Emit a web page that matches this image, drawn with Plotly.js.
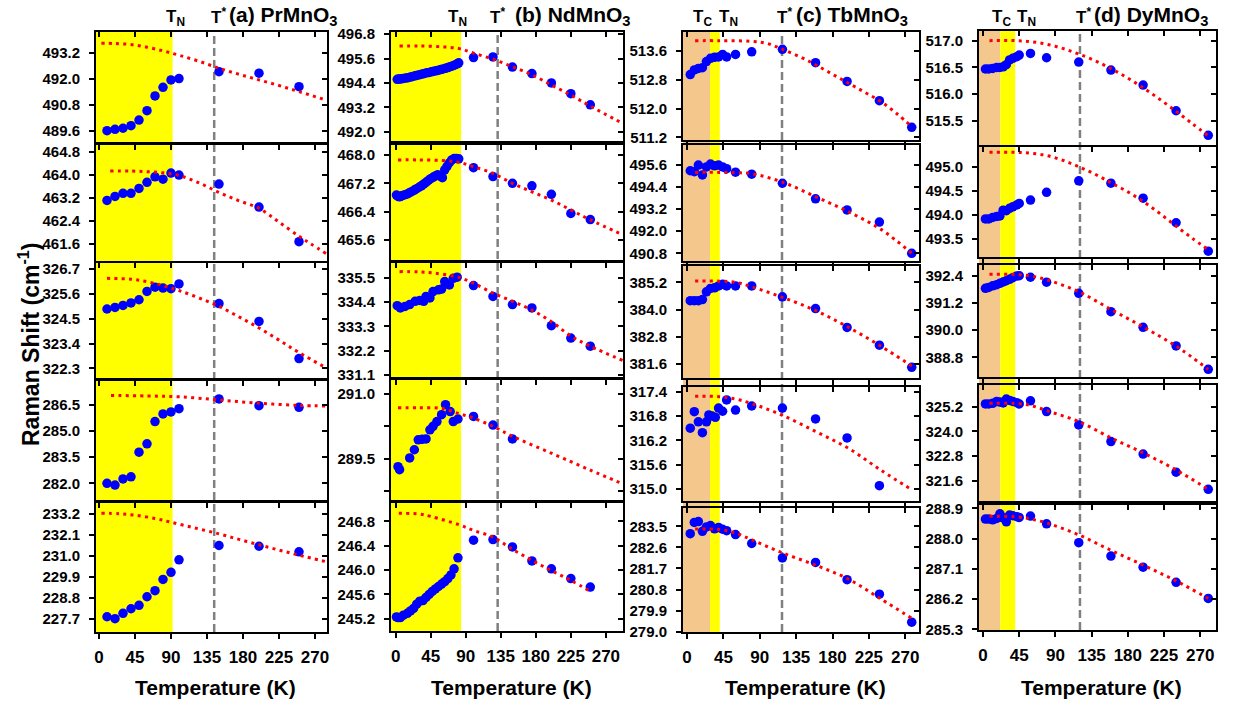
<!DOCTYPE html>
<html><head><meta charset="utf-8">
<script src="https://cdn.plot.ly/plotly-3.0.1.min.js"></script>
<style>html,body{margin:0;padding:0;background:#fff}#chart{width:1237px;height:703px}</style>
</head><body><div id="chart"></div>
<script>
// ================= DATA =================
const xTicks = [0, 45, 90, 135, 180, 225, 270];
const compoundLabels = ['(a) PrMnO<sub>3</sub>', '(b) NdMnO<sub>3</sub>', '(c) TbMnO<sub>3</sub>', '(d) DyMnO<sub>3</sub>'];
const TN_K = [92, 84, 40.5, 40];
const TC_K = [null, null, 28.5, 21.5];
const Tstar_K = [144, 131, 117.5, 120.5];

// ---- (a) PrMnO3 ----
const T_Pr = [10, 20, 30, 40, 50, 60, 70, 80, 90, 100, 150, 200, 250];
const w_Pr_1 = [489.60, 489.66, 489.71, 489.83, 490.09, 490.52, 491.20, 491.60, 491.94, 492.00, 492.32, 492.25, 491.63];
const w_Pr_2 = [463.11, 463.25, 463.36, 463.36, 463.53, 463.74, 463.93, 463.85, 464.06, 463.99, 463.68, 462.88, 461.68];
const w_Pr_3 = [324.93, 325.00, 325.09, 325.20, 325.34, 325.71, 325.90, 325.86, 325.83, 326.04, 325.17, 324.38, 322.73];
const w_Pr_4 = [282.00, 281.90, 282.25, 282.37, 283.79, 284.27, 285.55, 285.99, 286.10, 286.29, 286.85, 286.46, 286.37];
const w_Pr_5 = [227.82, 227.72, 228.00, 228.24, 228.42, 228.87, 229.19, 229.78, 230.15, 230.81, 231.56, 231.52, 231.23];
const fT_Pr_1 = [3, 20, 40, 60, 80, 100, 125, 150, 175, 200, 225, 250, 285];
const fw_Pr_1 = [493.63, 493.62, 493.57, 493.45, 493.28, 493.08, 492.80, 492.48, 492.20, 491.94, 491.68, 491.40, 491.00];
const fT_Pr_2 = [14, 40, 60, 80, 100, 125, 150, 175, 200, 225, 250, 264, 285];
const fw_Pr_2 = [464.13, 464.13, 464.11, 464.07, 463.98, 463.72, 463.39, 463.10, 462.84, 462.36, 461.87, 461.62, 461.25];
const fT_Pr_3 = [10, 40, 60, 80, 100, 125, 150, 175, 200, 225, 250, 285];
const fw_Pr_3 = [326.29, 326.25, 326.14, 325.97, 325.75, 325.42, 325.05, 324.58, 324.09, 323.55, 323.00, 322.30];
const fT_Pr_4 = [15, 60, 100, 150, 200, 250, 285];
const fw_Pr_4 = [287.05, 287.02, 286.97, 286.79, 286.60, 286.48, 286.44];
const fT_Pr_5 = [3, 25, 45, 70, 90, 120, 150, 175, 200, 225, 250, 285];
const fw_Pr_5 = [233.25, 233.23, 233.15, 232.98, 232.78, 232.48, 232.17, 231.88, 231.60, 231.32, 231.05, 230.70];

// ---- (b) NdMnO3 ----
const T_Nd_1 = [2, 4, 6, 8, 10, 13, 16, 19, 22, 25, 28, 31, 34, 37, 40, 43, 46, 49, 52, 55, 58, 61, 64, 67, 70, 73, 76, 79, 81, 100, 125, 150, 175, 200, 225, 250];
const w_Nd_1 = [494.58, 494.59, 494.60, 494.61, 494.62, 494.64, 494.66, 494.69, 494.72, 494.75, 494.78, 494.81, 494.84, 494.87, 494.90, 494.92, 494.95, 494.98, 495.00, 495.03, 495.06, 495.09, 495.12, 495.16, 495.20, 495.24, 495.29, 495.34, 495.39, 495.65, 495.68, 495.18, 494.86, 494.40, 493.87, 493.32];
const T_Nd_2 = [1, 3, 5, 7, 9, 12, 15, 18, 21, 24, 27, 30, 33, 36, 39, 42, 45, 48, 51, 54, 57, 60, 63, 66, 69, 72, 75, 78, 81, 100, 125, 150, 175, 200, 225, 250];
const w_Nd_2 = [466.87, 466.83, 466.82, 466.84, 466.86, 466.88, 466.90, 466.94, 466.97, 467.01, 467.05, 467.09, 467.13, 467.18, 467.23, 467.28, 467.33, 467.37, 467.41, 467.44, 467.40, 467.36, 467.58, 467.68, 467.78, 467.86, 467.90, 467.90, 467.89, 467.64, 467.39, 467.20, 467.13, 466.89, 466.35, 466.18];
const T_Nd_3 = [2, 6, 12, 18, 25, 31, 36, 39, 44, 48, 55, 59, 63, 69, 74, 79, 100, 125, 150, 175, 200, 225, 250];
const w_Nd_3 = [334.23, 334.13, 334.20, 334.28, 334.43, 334.47, 334.43, 334.65, 334.58, 334.87, 334.95, 334.98, 335.32, 335.17, 335.47, 335.52, 335.14, 334.65, 334.28, 334.13, 333.33, 332.77, 332.40];
const T_Nd_4 = [3, 5, 18, 24, 29, 34, 39, 44, 48, 53, 59, 64, 70, 74, 80, 100, 125, 150];
const w_Nd_4 = [289.32, 289.25, 289.52, 289.71, 289.94, 289.95, 289.96, 290.17, 290.25, 290.36, 290.52, 290.75, 290.59, 290.36, 290.42, 290.48, 290.28, 289.96];
const T_Nd_5 = [1, 3, 6, 10, 15, 19, 23, 27, 31, 35, 39, 43, 47, 51, 55, 59, 63, 67, 71, 75, 80, 100, 125, 150, 175, 200, 225, 250];
const w_Nd_5 = [245.23, 245.22, 245.22, 245.26, 245.29, 245.33, 245.37, 245.44, 245.49, 245.50, 245.55, 245.60, 245.65, 245.69, 245.73, 245.77, 245.81, 245.86, 245.92, 246.02, 246.20, 246.49, 246.50, 246.38, 246.15, 246.02, 245.86, 245.72];
const fT_Nd_1 = [5, 30, 60, 82, 100, 125, 150, 175, 200, 225, 250, 292];
const fw_Nd_1 = [496.22, 496.22, 496.18, 496.09, 495.87, 495.57, 495.20, 494.80, 494.30, 493.80, 493.26, 492.40];
const fT_Nd_2 = [3, 30, 60, 82, 100, 125, 150, 175, 200, 225, 250, 292];
const fw_Nd_2 = [467.86, 467.86, 467.84, 467.79, 467.67, 467.48, 467.20, 466.96, 466.73, 466.45, 466.17, 465.75];
const fT_Nd_3 = [5, 30, 50, 80, 100, 125, 150, 175, 200, 225, 250, 292];
const fw_Nd_3 = [335.77, 335.76, 335.70, 335.52, 335.25, 334.80, 334.43, 334.03, 333.51, 332.86, 332.40, 331.75];
const fT_Nd_4 = [3, 30, 60, 82, 100, 125, 150, 200, 250, 292];
const fw_Nd_4 = [290.68, 290.68, 290.66, 290.54, 290.44, 290.25, 290.02, 289.63, 289.24, 288.92];
const fT_Nd_5 = [4, 30, 45, 82, 100, 125, 150, 175, 200, 225, 250];
const fw_Nd_5 = [246.93, 246.92, 246.88, 246.74, 246.65, 246.54, 246.34, 246.16, 245.99, 245.83, 245.65];

// ---- (c) TbMnO3 ----
const T_Tb = [4, 9, 14, 19, 24, 29, 34, 39, 44, 49, 60, 80, 118, 159, 198, 238, 278];
const T_Tb_4 = [4, 9, 14, 19, 24, 27, 31, 35, 39, 44, 49, 60, 80, 118, 159, 198, 238];
const w_Tb_1 = [512.94, 513.07, 513.11, 513.13, 513.30, 513.39, 513.42, 513.43, 513.50, 513.43, 513.50, 513.57, 513.64, 513.27, 512.75, 512.22, 511.48];
const w_Tb_2 = [495.29, 495.24, 495.60, 495.06, 495.50, 495.65, 495.56, 495.60, 495.50, 495.40, 495.21, 495.10, 494.61, 493.76, 493.16, 492.50, 490.80];
const w_Tb_3 = [384.39, 384.39, 384.39, 384.44, 384.78, 384.93, 384.96, 385.04, 385.11, 385.04, 385.04, 385.04, 384.56, 384.04, 383.21, 382.43, 381.45];
const w_Tb_4 = [316.50, 316.91, 316.66, 316.39, 316.66, 316.83, 316.80, 316.77, 317.00, 316.92, 317.20, 316.95, 317.05, 317.00, 316.73, 316.26, 315.08];
const w_Tb_5 = [283.19, 283.67, 283.71, 283.29, 283.48, 283.54, 283.40, 283.46, 283.38, 283.32, 283.15, 282.77, 282.15, 281.96, 281.22, 280.60, 279.40];
const fT_Tb_1 = [10, 40, 80, 100, 118, 140, 160, 180, 200, 220, 240, 260, 278];
const fw_Tb_1 = [513.88, 513.88, 513.86, 513.80, 513.64, 513.43, 513.20, 512.95, 512.70, 512.45, 512.19, 511.85, 511.50];
const fT_Tb_2 = [10, 40, 60, 80, 118, 160, 200, 240, 278];
const fw_Tb_2 = [495.20, 495.20, 495.18, 495.13, 494.67, 493.86, 493.05, 492.10, 490.80];
const fT_Tb_3 = [10, 40, 60, 80, 118, 160, 200, 240, 278];
const fw_Tb_3 = [385.26, 385.25, 385.20, 385.00, 384.54, 383.94, 383.21, 382.38, 381.51];
const fT_Tb_4 = [10, 40, 60, 80, 118, 160, 200, 240, 278];
const fw_Tb_4 = [317.29, 317.28, 317.22, 317.11, 316.82, 316.41, 316.00, 315.46, 314.98];
const fT_Tb_5 = [10, 40, 60, 80, 118, 160, 200, 240, 278];
const fw_Tb_5 = [283.39, 283.37, 283.22, 282.93, 282.37, 281.83, 281.24, 280.39, 279.57];

// ---- (d) DyMnO3 ----
const T_Dy = [3, 7, 12, 17, 21, 25, 29, 33, 37, 42, 45, 59, 79, 119, 159, 199, 240, 280];
const w_Dy_1 = [516.47, 516.47, 516.48, 516.50, 516.50, 516.51, 516.55, 516.64, 516.67, 516.70, 516.73, 516.76, 516.68, 516.60, 516.45, 516.17, 515.69, 515.23];
const w_Dy_2 = [493.92, 493.92, 493.95, 493.97, 493.98, 494.10, 494.09, 494.14, 494.17, 494.21, 494.24, 494.31, 494.47, 494.71, 494.66, 494.35, 493.84, 493.25];
const w_Dy_3 = [391.84, 391.88, 391.95, 392.00, 392.06, 392.12, 392.18, 392.24, 392.31, 392.39, 392.40, 392.33, 392.11, 391.62, 390.81, 390.12, 389.30, 388.27];
const w_Dy_4 = [325.33, 325.33, 325.36, 325.45, 325.42, 325.38, 325.57, 325.50, 325.45, 325.39, 325.33, 325.48, 324.96, 324.31, 323.50, 322.89, 322.01, 321.18];
const w_Dy_5 = [288.58, 288.58, 288.56, 288.60, 288.74, 288.62, 288.50, 288.70, 288.68, 288.65, 288.63, 288.67, 288.44, 287.88, 287.48, 287.15, 286.70, 286.22];
const fT_Dy_1 = [8, 40, 60, 80, 100, 119, 140, 160, 180, 200, 220, 240, 260, 280];
const fw_Dy_1 = [517.00, 517.00, 516.98, 516.93, 516.85, 516.75, 516.62, 516.47, 516.30, 516.11, 515.90, 515.68, 515.45, 515.22];
const fT_Dy_2 = [8, 40, 60, 80, 100, 119, 140, 160, 180, 200, 220, 240, 260, 280];
const fw_Dy_2 = [495.30, 495.30, 495.28, 495.23, 495.13, 495.00, 494.84, 494.66, 494.48, 494.27, 494.03, 493.77, 493.52, 493.28];
const fT_Dy_3 = [8, 40, 60, 80, 119, 160, 200, 240, 280];
const fw_Dy_3 = [392.46, 392.45, 392.38, 392.21, 391.69, 390.89, 390.12, 389.29, 388.27];
const fT_Dy_4 = [8, 45, 60, 80, 119, 160, 200, 240, 280];
const fw_Dy_4 = [325.36, 325.34, 325.25, 324.99, 324.47, 323.66, 322.93, 322.12, 321.18];
const fT_Dy_5 = [8, 45, 60, 80, 120, 160, 200, 240, 280];
const fw_Dy_5 = [288.67, 288.64, 288.58, 288.46, 288.10, 287.64, 287.20, 286.74, 286.22];

// ---- y tick labels ----
const yt_Pr = [[489.6, 490.8, 492.0, 493.2], [461.6, 462.4, 463.2, 464.0, 464.8], [322.3, 323.4, 324.5, 325.6, 326.7], [282.0, 283.5, 285.0, 286.5], [227.7, 228.8, 229.9, 231.0, 232.1, 233.2]];
const yt_Nd = [[492.0, 493.2, 494.4, 495.6, 496.8], [465.6, 466.4, 467.2, 468.0], [331.1, 332.2, 333.3, 334.4, 335.5], [289.5, 291.0], [245.2, 245.6, 246.0, 246.4, 246.8]];
const yt_Tb = [[511.2, 512.0, 512.8, 513.6], [490.8, 492.0, 493.2, 494.4, 495.6], [381.6, 382.8, 384.0, 385.2], [315.0, 315.6, 316.2, 316.8, 317.4], [279.0, 279.9, 280.8, 281.7, 282.6, 283.5]];
const yt_Dy = [[515.5, 516.0, 516.5, 517.0], [493.5, 494.0, 494.5, 495.0], [388.8, 390.0, 391.2, 392.4], [321.6, 322.8, 324.0, 325.2], [285.3, 286.2, 287.1, 288.0, 288.9]];
const ytMinor_Nd_4 = [288.75, 290.25];

// ================= LAYOUT CONFIG =================
const W = 1237, H = 703;
const px = v => v / W, py = v => 1 - v / H;
const FONT = 'Liberation Sans, Arial, Helvetica, sans-serif';
const colPx = [[96, 327], [391, 623], [683, 919], [979, 1216]];
const rowPx = [
  [[32, 143], [144, 261], [263, 378], [381, 500], [503, 632]],
  [[32, 141], [145, 260], [263, 377], [380, 500], [503, 631]],
  [[32, 140], [145, 261], [266, 378], [387, 501], [508, 632]],
  [[31, 145], [147, 257], [265, 377], [385, 501], [505, 630]]];
const xRange = [[-3.75, 285], [-6, 292], [-5, 287], [-5, 289.6]];
const yRange = [
  [[489.03, 494.15], [461.01, 465.07], [321.87, 326.97], [281.04, 287.88], [227.02, 233.79]],
  [[491.54, 496.91], [465.04, 468.28], [331.01, 336.16], [288.55, 291.32], [245.0, 247.1]],
  [[511.13, 514.12], [490.38, 496.69], [380.98, 385.92], [314.7, 317.52], [278.98, 284.29]],
  [[515.05, 517.18], [493.13, 495.41], [387.93, 392.87], [320.61, 326.25], [285.28, 289.0]]];

const series = [
  [[T_Pr, w_Pr_1, fT_Pr_1, fw_Pr_1], [T_Pr, w_Pr_2, fT_Pr_2, fw_Pr_2], [T_Pr, w_Pr_3, fT_Pr_3, fw_Pr_3], [T_Pr, w_Pr_4, fT_Pr_4, fw_Pr_4], [T_Pr, w_Pr_5, fT_Pr_5, fw_Pr_5]],
  [[T_Nd_1, w_Nd_1, fT_Nd_1, fw_Nd_1], [T_Nd_2, w_Nd_2, fT_Nd_2, fw_Nd_2], [T_Nd_3, w_Nd_3, fT_Nd_3, fw_Nd_3], [T_Nd_4, w_Nd_4, fT_Nd_4, fw_Nd_4], [T_Nd_5, w_Nd_5, fT_Nd_5, fw_Nd_5]],
  [[T_Tb, w_Tb_1, fT_Tb_1, fw_Tb_1], [T_Tb, w_Tb_2, fT_Tb_2, fw_Tb_2], [T_Tb, w_Tb_3, fT_Tb_3, fw_Tb_3], [T_Tb_4, w_Tb_4, fT_Tb_4, fw_Tb_4], [T_Tb, w_Tb_5, fT_Tb_5, fw_Tb_5]],
  [[T_Dy, w_Dy_1, fT_Dy_1, fw_Dy_1], [T_Dy, w_Dy_2, fT_Dy_2, fw_Dy_2], [T_Dy, w_Dy_3, fT_Dy_3, fw_Dy_3], [T_Dy, w_Dy_4, fT_Dy_4, fw_Dy_4], [T_Dy, w_Dy_5, fT_Dy_5, fw_Dy_5]]];
const yTicks = [yt_Pr, yt_Nd, yt_Tb, yt_Dy];

const tickStyle = {ticklen: 5, tickwidth: 2, tickcolor: '#000', showgrid: false, zeroline: false, fixedrange: true};
const axBase = Object.assign({showline: true, linecolor: '#000', linewidth: 2, mirror: true, ticks: 'outside'}, tickStyle);
const ovBase = Object.assign({showline: false, ticks: 'inside', showticklabels: false}, tickStyle);

const traces = [];
const layout = {
  width: W, height: H, margin: {l: 0, r: 0, t: 0, b: 0},
  paper_bgcolor: '#fff', plot_bgcolor: 'rgba(0,0,0,0)',
  showlegend: false, shapes: [], annotations: []
};

for (let c = 0; c < 4; c++) {
  for (let r = 0; r < 5; r++) {
    const idx = c * 5 + r + 1;
    const xn = 'x' + (idx > 1 ? idx : ''), yn = 'y' + (idx > 1 ? idx : '');
    const [T, w, fT, fw] = series[c][r];
    traces.push({x: T, y: w, xaxis: xn, yaxis: yn, type: 'scatter', mode: 'markers',
      marker: {color: 'rgb(0,0,255)', size: 9.5, line: {width: 0}}, cliponaxis: false});
    traces.push({x: fT, y: fw, xaxis: xn, yaxis: yn, type: 'scatter', mode: 'lines',
      line: {color: 'rgb(255,0,0)', width: 3, dash: '3px,4.3px', shape: 'spline', smoothing: 1}});
    const yt = yTicks[c][r];
    layout['xaxis' + (idx > 1 ? idx : '')] = Object.assign({}, axBase, {
      domain: [px(colPx[c][0]), px(colPx[c][1])], range: xRange[c], anchor: yn,
      tickmode: 'array', tickvals: xTicks, ticktext: xTicks.map(String), showticklabels: r === 4,
      tickfont: {family: FONT, size: 17, color: '#000', weight: 'bold'}, ticklabelstandoff: 4
    });
    const yax = Object.assign({}, axBase, {
      domain: [py(rowPx[c][r][1]), py(rowPx[c][r][0])], range: yRange[c][r], anchor: xn,
      tickmode: 'array', tickvals: yt, ticktext: yt.map(v => v.toFixed(1)),
      tickfont: {family: FONT, size: 15, color: '#000', weight: 'bold'}, ticklabelstandoff: 6
    });
    const ov = idx + 20;
    const yov = Object.assign({}, ovBase, {overlaying: yn, anchor: xn, side: 'right', range: yRange[c][r], tickmode: 'array', tickvals: yt});
    if (c === 1 && r === 3) {
      yax.minor = {tickvals: ytMinor_Nd_4, ticks: 'outside', ticklen: 5, tickwidth: 2, tickcolor: '#000'};
      yov.minor = {tickvals: ytMinor_Nd_4, ticks: 'inside', ticklen: 5, tickwidth: 2, tickcolor: '#000'};
    }
    layout['yaxis' + (idx > 1 ? idx : '')] = yax;
    // mirrored inside ticks on top and right edges
    layout['xaxis' + ov] = Object.assign({}, ovBase, {overlaying: xn, anchor: yn, side: 'top', range: xRange[c], tickmode: 'array', tickvals: xTicks});
    layout['yaxis' + ov] = yov;
    traces.push({x: [], y: [], xaxis: 'x' + ov, yaxis: 'y' + ov, type: 'scatter', mode: 'markers', hoverinfo: 'skip'});
  }
  // shading + T* line spanning the whole column
  const xref = 'x' + (c * 5 + 5);
  const yTop = py(rowPx[c][0][0]), yBot = py(rowPx[c][4][1]);
  let start = xRange[c][0];
  if (TC_K[c] !== null) {
    layout.shapes.push({type: 'rect', xref: xref, yref: 'paper', x0: start, x1: TC_K[c], y0: yBot, y1: yTop,
      fillcolor: 'rgb(244,199,140)', line: {width: 0}, layer: 'below'});
    start = TC_K[c];
  }
  layout.shapes.push({type: 'rect', xref: xref, yref: 'paper', x0: start, x1: TN_K[c], y0: yBot, y1: yTop,
    fillcolor: 'rgb(255,255,0)', line: {width: 0}, layer: 'below'});
  layout.shapes.push({type: 'line', xref: xref, yref: 'paper', x0: Tstar_K[c], x1: Tstar_K[c], y0: yBot, y1: yTop,
    line: {color: 'rgb(128,128,128)', width: 2.5, dash: '8px,4px'}, layer: 'below'});
}

// top labels
const topFont = {family: FONT, size: 21, color: '#000', weight: 'bold'};
const tFont = {family: FONT, size: 17, color: '#000', weight: 'bold'};
const labelPos = [
  {TC: null, TN: 175, TS: 218, title: 227},
  {TC: null, TN: 457, TS: 497, title: 513},
  {TC: 702, TN: 728, TS: 784, title: 794},
  {TC: 1001, TN: 1026, TS: 1083, title: 1092}];
labelPos.forEach((p, c) => {
  if (p.TC !== null) layout.annotations.push({text: 'T<sub>C</sub>', xref: 'paper', yref: 'paper', x: px(p.TC), y: py(18), xanchor: 'center', yanchor: 'middle', showarrow: false, font: tFont});
  layout.annotations.push({text: 'T<sub>N</sub>', xref: 'paper', yref: 'paper', x: px(p.TN), y: py(18), xanchor: 'center', yanchor: 'middle', showarrow: false, font: tFont});
  layout.annotations.push({text: 'T<sup>*</sup>', xref: 'paper', yref: 'paper', x: px(p.TS), y: py(16), xanchor: 'center', yanchor: 'middle', showarrow: false, font: tFont});
  layout.annotations.push({text: compoundLabels[c], xref: 'paper', yref: 'paper', x: px(p.title), y: py(16), xanchor: 'left', yanchor: 'middle', showarrow: false, font: topFont});
  layout.annotations.push({text: 'Temperature (K)', xref: 'paper', yref: 'paper', x: px((colPx[c][0] + colPx[c][1]) / 2 + 4), y: py(687), xanchor: 'center', yanchor: 'middle', showarrow: false, font: {family: FONT, size: 21, color: '#000', weight: 'bold'}});
});
layout.annotations.push({text: 'Raman Shift (cm<sup>-1</sup>)', xref: 'paper', yref: 'paper', x: px(29), y: py(345), xanchor: 'center', yanchor: 'middle', textangle: -90, showarrow: false, font: {family: FONT, size: 23, color: '#000', weight: 'bold'}});

Plotly.newPlot('chart', traces, layout, {displayModeBar: false, staticPlot: true});
</script>
</body></html>
